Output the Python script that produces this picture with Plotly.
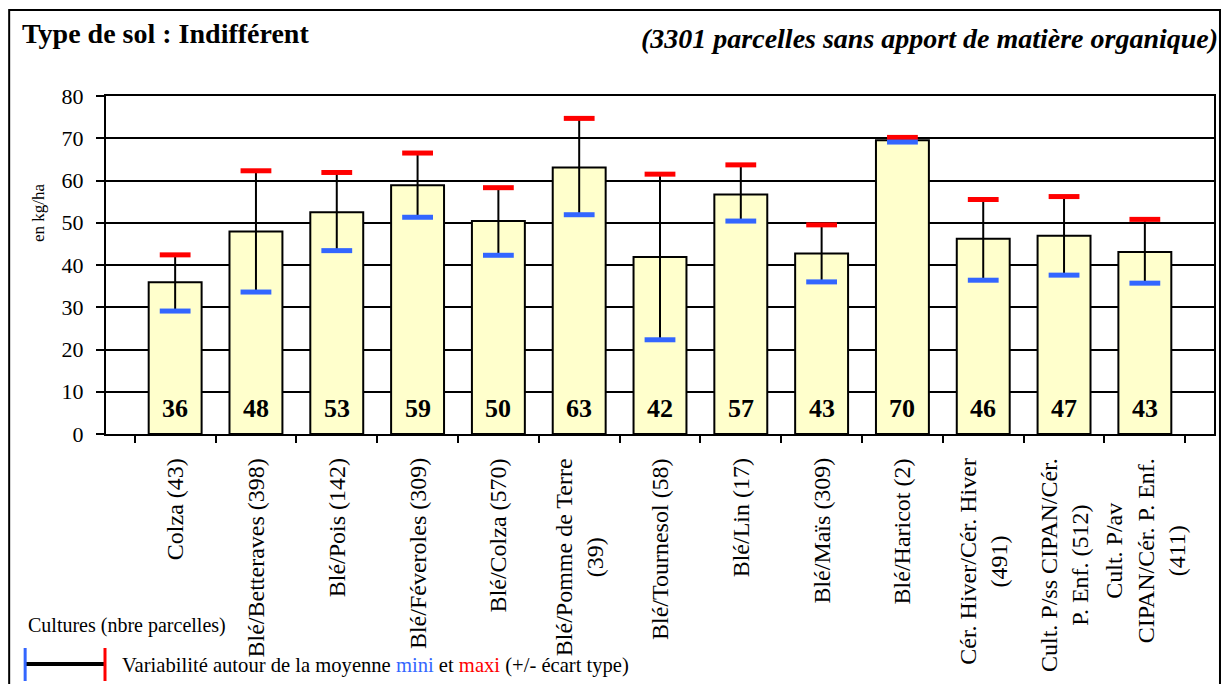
import plotly.graph_objects as go

# ---------------- data ----------------
categories = [
    "Colza (43)",
    "Blé/Betteraves (398)",
    "Blé/Pois (142)",
    "Blé/Féveroles (309)",
    "Blé/Colza (570)",
    "Blé/Pomme de Terre<br>(39)",
    "Blé/Tournesol (58)",
    "Blé/Lin (17)",
    "Blé/Maïs (309)",
    "Blé/Haricot (2)",
    "Cér. Hiver/Cér. Hiver<br>(491)",
    "Cult. P/ss CIPAN/Cér.<br>P. Enf. (512)",
    "Cult. P/av<br>CIPAN/Cér. P. Enf.<br>(411)",
]
moyenne = [35.9, 47.9, 52.5, 58.9, 50.4, 63.1, 41.9, 56.7, 42.7, 69.5, 46.2, 46.9, 43.1]
labels_moyenne = ["36", "48", "53", "59", "50", "63", "42", "57", "43", "70", "46", "47", "43"]
mini = [29.1, 33.6, 43.4, 51.3, 42.3, 51.9, 22.3, 50.4, 36.0, 69.1, 36.4, 37.6, 35.7]
maxi = [42.4, 62.3, 61.9, 66.5, 58.3, 74.7, 61.5, 63.7, 49.5, 70.2, 55.5, 56.2, 50.8]
y_ticks = [0, 10, 20, 30, 40, 50, 60, 70, 80]

# ---------------- geometry ----------------
W, H = 1224, 684
L, R, T, B = 106, 8, 96, 250
PW, PH = W - L - R, H - T - B


def px(x):
    return (x - L) / PW


def py(y):
    return (H - B - y) / PH


SERIF = "Liberation Serif"
BLUE = "#3366FF"
RED = "#FF0000"

fig = go.Figure()

fig.add_trace(go.Bar(
    x=categories, y=moyenne,
    marker=dict(color="#FFFFCC", line=dict(color="black", width=2)),
    hoverinfo="skip", showlegend=False,
))

# vertical variability lines
ex, ey = [], []
for c, lo, hi in zip(categories, mini, maxi):
    ex += [c, c, None]
    ey += [lo, hi, None]
fig.add_trace(go.Scatter(x=ex, y=ey, mode="lines",
                         line=dict(color="black", width=2),
                         hoverinfo="skip", showlegend=False))

fig.add_trace(go.Scatter(x=categories, y=maxi, mode="markers",
                         marker=dict(symbol="line-ew", size=22,
                                     line=dict(color=RED, width=5)),
                         hoverinfo="skip", showlegend=False))
fig.add_trace(go.Scatter(x=categories, y=mini, mode="markers",
                         marker=dict(symbol="line-ew", size=22,
                                     line=dict(color=BLUE, width=5)),
                         hoverinfo="skip", showlegend=False))

annotations = []
for c, lab in zip(categories, labels_moyenne):
    annotations.append(dict(x=c, y=0, xref="x", yref="y", text=f"<b>{lab}</b>",
                            showarrow=False, yanchor="bottom", yshift=9,
                            font=dict(family=SERIF, size=26, color="black")))
for c in categories:
    annotations.append(dict(x=c, y=0, xref="x", yref="y", text=c,
                            showarrow=False, textangle=-90, align="center",
                            yanchor="top", xanchor="center", yshift=-22,
                            font=dict(family=SERIF, size=24, color="black")))

annotations += [
    dict(x=px(20), y=py(33), xref="paper", yref="paper",
         text="<b>Type de sol : Indifférent</b>", showarrow=False,
         xanchor="left", yanchor="middle",
         font=dict(family=SERIF, size=28, color="black")),
    dict(x=px(1222), y=py(38), xref="paper", yref="paper",
         text="<b><i>(3301 parcelles sans apport de matière organique)</i></b>",
         showarrow=False, xanchor="right", yanchor="middle",
         font=dict(family=SERIF, size=28, color="black")),
    dict(x=px(38), y=py(213), xref="paper", yref="paper",
         text="en kg/ha", showarrow=False, textangle=-90,
         xanchor="center", yanchor="middle",
         font=dict(family=SERIF, size=17, color="black")),
    dict(x=px(26), y=py(625), xref="paper", yref="paper",
         text="Cultures (nbre parcelles)", showarrow=False,
         xanchor="left", yanchor="middle",
         font=dict(family=SERIF, size=20, color="black")),
    dict(x=px(120), y=py(665), xref="paper", yref="paper",
         text=("Variabilité autour de la moyenne "
               f"<span style='color:{BLUE}'>mini</span> et "
               f"<span style='color:{RED}'>maxi</span> (+/- écart type)"),
         showarrow=False, xanchor="left", yanchor="middle",
         font=dict(family=SERIF, size=20.6, color="black")),
]

shapes = [
    # outer frame
    dict(type="rect", xref="paper", yref="paper",
         x0=px(9), x1=px(1222), y0=py(700), y1=py(10),
         line=dict(color="black", width=2), fillcolor="rgba(0,0,0,0)",
         layer="below"),
    # legend glyph
    dict(type="line", xref="paper", yref="paper",
         x0=px(25), x1=px(105), y0=py(664), y1=py(664),
         line=dict(color="black", width=4)),
    dict(type="line", xref="paper", yref="paper",
         x0=px(25), x1=px(25), y0=py(648), y1=py(681),
         line=dict(color=BLUE, width=3)),
    dict(type="line", xref="paper", yref="paper",
         x0=px(105), x1=px(105), y0=py(648), y1=py(681),
         line=dict(color=RED, width=3)),
]

fig.update_layout(
    width=W, height=H,
    margin=dict(l=L, r=R, t=T, b=B, pad=0),
    paper_bgcolor="white", plot_bgcolor="white",
    bargap=0.345,
    showlegend=False,
    annotations=annotations,
    shapes=shapes,
    font=dict(family=SERIF, color="black"),
)
fig.update_xaxes(
    type="category", showticklabels=False,
    ticks="outside", tickson="boundaries", ticklen=7, tickwidth=1.5,
    tickcolor="black", showline=True, linecolor="black", linewidth=2,
    mirror=True, showgrid=False, zeroline=False,
)
fig.update_yaxes(
    range=[0, 80], tickvals=y_ticks, ticks="outside", ticklen=8,
    tickwidth=1.5, tickcolor="black", ticklabelstandoff=8,
    tickfont=dict(family=SERIF, size=22, color="black"),
    showline=True, linecolor="black", linewidth=2, mirror=True,
    showgrid=True, gridcolor="black", gridwidth=1.5, zeroline=False,
)

fig.write_html(
    "out.html",
    config={"displayModeBar": False},
    post_script="document.body.style.margin='0';document.body.style.overflow='hidden';",
)
